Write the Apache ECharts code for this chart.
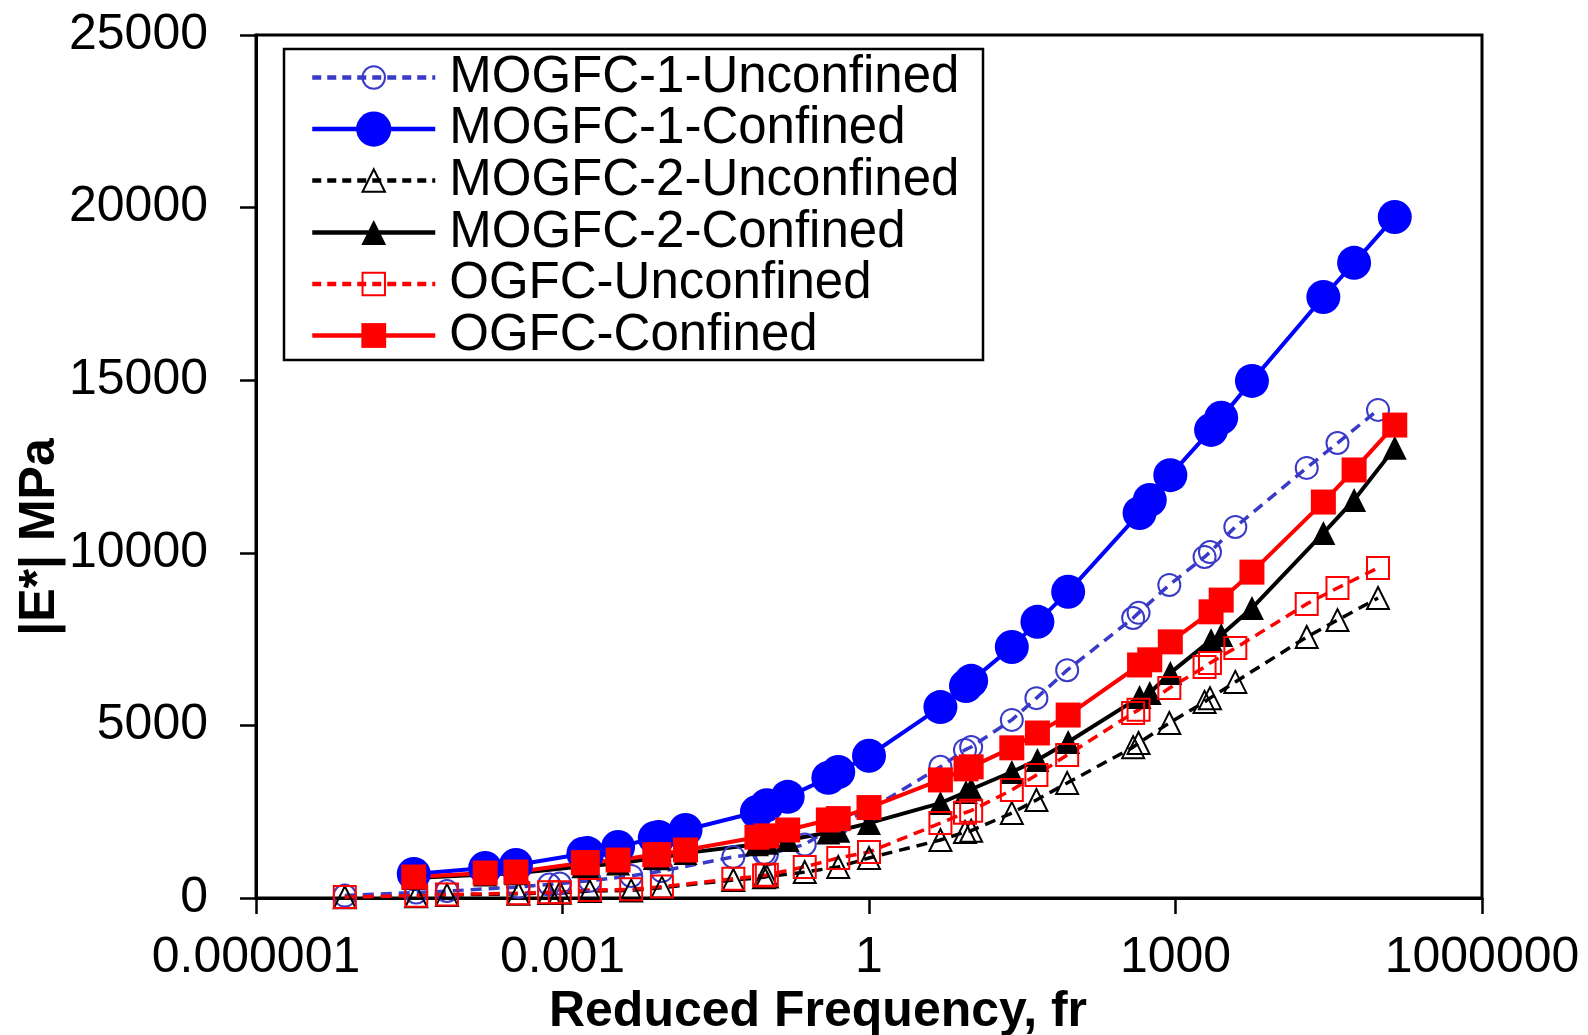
<!DOCTYPE html>
<html><head><meta charset="utf-8">
<script src="https://cdn.jsdelivr.net/npm/echarts@6/dist/echarts.min.js"></script>
<style>html,body{margin:0;padding:0;background:#fff}#c{width:1588px;height:1035px}</style>
</head><body><div id="c"></div>
<script>
// Reduced frequencies (Hz), five temperature sets x six loading frequencies
const freqConfined = [
  140000, 56000, 28000, 5600, 2800, 560,
  2230, 890, 445, 89, 44.5, 8.9,
  25, 10, 5, 1, 0.5, 0.1,
  0.4, 0.16, 0.08, 0.016, 0.008, 0.0016,
  0.00875, 0.0035, 0.00175, 0.00035, 0.000175, 0.000035
];
const freqUnconfined = [
  96000, 38500, 19250, 3850, 1925, 385,
  2175, 870, 435, 87, 43.5, 8.7,
  25, 10, 5, 1, 0.5, 0.1,
  0.235, 0.094, 0.047, 0.0094, 0.0047, 0.00094,
  0.00185, 0.00074, 0.00037, 0.000074, 0.000037, 0.0000074
];
// |E*| values (MPa)
const mogfc1Unconfined = [
  14140, 13180, 12460, 10750, 9880, 8110,
  10020, 9070, 8260, 6600, 5790, 4290,
  5160, 4375, 3800, 2550, 2150, 1260,
  1550, 1300, 1190, 780, 640, 420,
  500, 390, 320, 200, 160, 70
];
const mogfc1Confined = [
  19730, 18400, 17410, 14980, 13910, 11530,
  13560, 12250, 11150, 8870, 8000, 6140,
  7270, 6290, 5530, 4120, 3650, 2690,
  3480, 2930, 2490, 1970, 1740, 1280,
  1770, 1480, 1300, 956, 870, 695
];
const mogfc2Unconfined = [
  8690, 8050, 7560, 6260, 5680, 4370,
  5790, 5070, 4490, 3330, 2840, 1910,
  2460, 1950, 1680, 1160, 900, 620,
  750, 600, 520, 300, 220, 150,
  200, 145, 120, 90, 50, 20
];
const mogfc2Confined = [
  13040, 11530, 10570, 8400, 7620, 5940,
  7470, 6520, 5820, 4520, 4000, 3070,
  3650, 3150, 2750, 2170, 1950, 1600,
  1900, 1680, 1560, 1300, 1160, 920,
  1150, 1000, 930, 720, 680, 580
];
const ogfcUnconfined = [
  9560, 8980, 8520, 7240, 6690, 5360,
  6810, 6080, 5450, 4140, 3560, 2470,
  3130, 2530, 2170, 1330, 1160, 670,
  900, 650, 560, 330, 250, 170,
  230, 165, 140, 100, 65, 30
];
const ogfcConfined = [
  13700, 12400, 11470, 9440, 8630, 6900,
  8290, 7420, 6750, 5300, 4780, 3740,
  4350, 3800, 3420, 2620, 2300, 1800,
  2260, 1970, 1760, 1390, 1250, 1020,
  1255, 1100, 1025, 753, 724, 608
];
const seriesNames = ['MOGFC-1-Unconfined','MOGFC-1-Confined','MOGFC-2-Unconfined','MOGFC-2-Confined','OGFC-Unconfined','OGFC-Confined'];
const xTickLabels = ['0.000001','0.001','1','1000','1000000'];
const yTickLabels = ['0','5000','10000','15000','20000','25000'];

const FONT = '"Liberation Sans", Arial, Helvetica, sans-serif';
function pairs(xs, ys){ return xs.map((x,i)=>[x, ys[i]]).sort((a,b)=>a[0]-b[0]); }

const BLUE_U = '#3A3AC8', BLUE = '#0000FF', RED = '#FF0000', BLACK = '#000000';
const CLEAR = 'rgba(0,0,0,0)';
const dash = [11, 7];

const seriesDefs = [
  {name: seriesNames[0], data: pairs(freqUnconfined, mogfc1Unconfined), symbol:'circle', symbolSize:22,
   itemStyle:{color:CLEAR, borderColor:BLUE_U, borderWidth:2}, lineStyle:{color:BLUE_U, width:3.5, type:dash}},
  {name: seriesNames[1], data: pairs(freqConfined, mogfc1Confined), symbol:'circle', symbolSize:34,
   itemStyle:{color:BLUE, borderWidth:0}, lineStyle:{color:BLUE, width:4, type:'solid'}},
  {name: seriesNames[2], data: pairs(freqUnconfined, mogfc2Unconfined), symbol:'triangle', symbolSize:22,
   itemStyle:{color:CLEAR, borderColor:BLACK, borderWidth:2}, lineStyle:{color:BLACK, width:3.5, type:dash}},
  {name: seriesNames[3], data: pairs(freqConfined, mogfc2Confined), symbol:'triangle', symbolSize:24,
   itemStyle:{color:BLACK, borderWidth:0}, lineStyle:{color:BLACK, width:4, type:'solid'}},
  {name: seriesNames[4], data: pairs(freqUnconfined, ogfcUnconfined), symbol:'rect', symbolSize:22,
   itemStyle:{color:CLEAR, borderColor:RED, borderWidth:2}, lineStyle:{color:RED, width:3.5, type:dash}},
  {name: seriesNames[5], data: pairs(freqConfined, ogfcConfined), symbol:'rect', symbolSize:25,
   itemStyle:{color:RED, borderWidth:0}, lineStyle:{color:RED, width:4, type:'solid'}}
];

const legendCenters = [77, 128.6, 180, 232, 283.5, 335];
const legendHeights = [28, 44, 28, 31, 28, 31];
const legends = seriesNames.map((n, i) => ({
  data: [{name: n, lineStyle: {width: 4.5, color: seriesDefs[i].lineStyle.color,
    type: seriesDefs[i].lineStyle.type === 'solid' ? 'solid' : [9, 6]}}],
  left: 310, top: legendCenters[i] - 25, orient: 'horizontal', padding: 0,
  itemWidth: 123, itemHeight: legendHeights[i], selectedMode: false,
  textStyle: {fontFamily: FONT, fontSize: 51, color: '#000', lineHeight: 50, padding: [0,0,0,9]}
}));

const chart = echarts.init(document.getElementById('c'), null, {renderer: 'canvas'});
chart.setOption({
  backgroundColor: '#fff',
  animation: false,
  grid: {left: 256, right: 106, top: 35, bottom: 137, outerBoundsMode: 'none', containLabel: false,
    show: true, borderColor: '#000', borderWidth: 3, backgroundColor: CLEAR},
  legend: legends,
  graphic: [{type: 'rect', shape: {x: 284, y: 49, width: 699, height: 311}, style: {fill: null, stroke: '#000', lineWidth: 2.5}, z: 100}],
  xAxis: {
    type: 'log', logBase: 10, min: 0.000001, max: 1000000, interval: 3,
    name: 'Reduced Frequency, fr', nameLocation: 'middle', nameGap: 89, nameMoveOverlap: false,
    nameTextStyle: {fontFamily: FONT, fontSize: 50, fontWeight: 'bold', color: '#000', padding: [0,102,0,0]},
    axisLine: {show: true, lineStyle: {color: '#000', width: 3}},
    axisTick: {show: true, inside: false, length: 16, lineStyle: {color: '#000', width: 2.5}},
    minorTick: {show: false},
    splitLine: {show: false},
    axisLabel: {margin: 35, fontFamily: FONT, fontSize: 50, color: '#000',
      formatter: v => xTickLabels[Math.round(Math.log10(v)/3) + 2]}
  },
  yAxis: {
    type: 'value', min: 0, max: 25000, interval: 5000,
    name: '|E*| MPa', nameLocation: 'middle', nameGap: 191, nameRotate: 90, nameMoveOverlap: false,
    nameTextStyle: {fontFamily: FONT, fontSize: 50, fontWeight: 'bold', color: '#000', padding: [0,141,0,0]},
    axisLine: {show: true, lineStyle: {color: '#000', width: 3}},
    axisTick: {show: true, inside: false, length: 16, lineStyle: {color: '#000', width: 2.5}},
    splitLine: {show: false},
    axisLabel: {margin: 48, fontFamily: FONT, fontSize: 50, color: '#000',
      formatter: v => yTickLabels[Math.round(v/5000)]}
  },
  series: seriesDefs.map(s => Object.assign({type: 'line', showSymbol: true, clip: false, emphasis: {disabled: true}}, s))
});
</script></body></html>
